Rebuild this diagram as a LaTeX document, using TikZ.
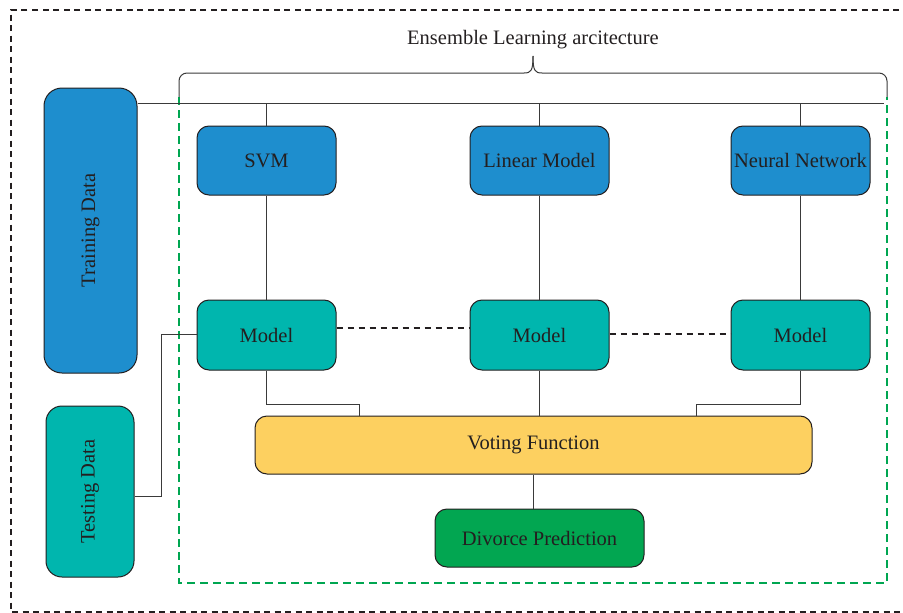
\documentclass[tikz,border=0pt]{standalone}
\usepackage{fontspec}
\setmainfont{Liberation Serif}
\usepackage{tikz}
\definecolor{cblue}{HTML}{1E8ECE}
\definecolor{cteal}{HTML}{00B6AE}
\definecolor{cyellow}{HTML}{FDD060}
\definecolor{cgreen}{HTML}{02A651}
\definecolor{cline}{HTML}{3A3A3A}
\definecolor{ctext}{HTML}{231F20}
\definecolor{cdash}{HTML}{00A651}
\begin{document}
\begin{tikzpicture}[x=1pt,y=-1pt,
  lbl/.style={text=ctext,font=\fontsize{20.5}{24}\selectfont},
  box/.style={lbl,draw=ctext,line width=1pt,rounded corners=12pt,inner sep=0pt},
  conn/.style={draw=cline,line width=1pt},
  modeldash/.style={draw=ctext,line width=1.8pt,dash pattern=on 6pt off 5pt},
  outerdash/.style={draw=ctext,line width=1.5pt,dash pattern=on 6pt off 4.5pt},
  greendash/.style={draw=cdash,line width=2pt,dash pattern=on 8pt off 5pt}]
\clip (0,0) rectangle (903,613);
% outer dashed frame
\draw[outerdash] (920,10) -- (11,10) -- (11,612) -- (920,612);
% green dashed frame
\draw[greendash] (179,97) -- (179,583) -- (887,583) -- (887,97);
% brace
\draw[conn,rounded corners=8pt] (179,97) -- (179,73) -- (524,73);
\draw[conn] (524,73) .. controls (531,73) and (533,71) .. (533,56);
\draw[conn] (533,56) .. controls (533,71) and (535,73) .. (542,73);
\draw[conn,rounded corners=8pt] (542,73) -- (887,73) -- (887,97);
\node[lbl] (title) at (533,40) {Ensemble Learning arcitecture};
% nodes
\node[box,fill=cblue,rounded corners=18pt,minimum width=93pt,minimum height=285pt] (train) at (90.5,230.5) {};
\node[lbl,rotate=90] at (train.center) {Training Data};
\node[box,fill=cteal,rounded corners=16pt,minimum width=88pt,minimum height=171pt] (test) at (90,491.5) {};
\node[lbl,rotate=90] at (test.center) {Testing Data};
\node[box,fill=cblue,minimum width=139pt,minimum height=69pt] (svm) at (266.5,160.5) {SVM};
\node[box,fill=cblue,minimum width=139pt,minimum height=69pt] (lin) at (539.5,160.5) {Linear Model};
\node[box,fill=cblue,minimum width=139pt,minimum height=69pt] (nn) at (800.5,160.5) {Neural Network};
\node[box,fill=cteal,minimum width=139pt,minimum height=70pt] (m1) at (266.5,335) {Model};
\node[box,fill=cteal,minimum width=139pt,minimum height=70pt] (m2) at (539.5,335) {Model};
\node[box,fill=cteal,minimum width=139pt,minimum height=70pt] (m3) at (800.5,335) {Model};
\node[box,fill=cyellow,minimum width=557pt,minimum height=58pt] (vote) at (533.5,445) {Voting Function};
\node[box,fill=cgreen,minimum width=209pt,minimum height=58pt] (div) at (539.5,538) {Divorce Prediction};
% coordinates
\coordinate (bus) at (884,103);
\coordinate (v1) at (359,416);
\coordinate (v3) at (696,416);
\coordinate (tj) at (161,496);
\coordinate (tk) at (161,334);
\coordinate (d1) at (0,328);
\coordinate (d2) at (0,334);
% connectors
\draw[conn] (train.east |- bus) -- (bus);
\draw[conn] (svm.north |- bus) -- (svm.north);
\draw[conn] (lin.north |- bus) -- (lin.north);
\draw[conn] (nn.north |- bus) -- (nn.north);
\draw[conn] (svm.south) -- (m1.north);
\draw[conn] (lin.south) -- (m2.north);
\draw[conn] (nn.south) -- (m3.north);
\draw[conn] (m1.south) -- ++(0,34) -| (v1);
\draw[conn] (m2.south) -- (m2.south |- vote.north);
\draw[conn] (m3.south) -- ++(0,34) -| (v3);
\draw[conn] (vote.south) -- (vote.south |- div.north);
\draw[conn] (test.east |- tj) -- (tj) -- (tk) -- (m1.west |- tk);
\draw[modeldash] (m1.east |- d1) -- (m2.west |- d1);
\draw[modeldash] (m2.east |- d2) -- (m3.west |- d2);
\end{tikzpicture}
\end{document}
